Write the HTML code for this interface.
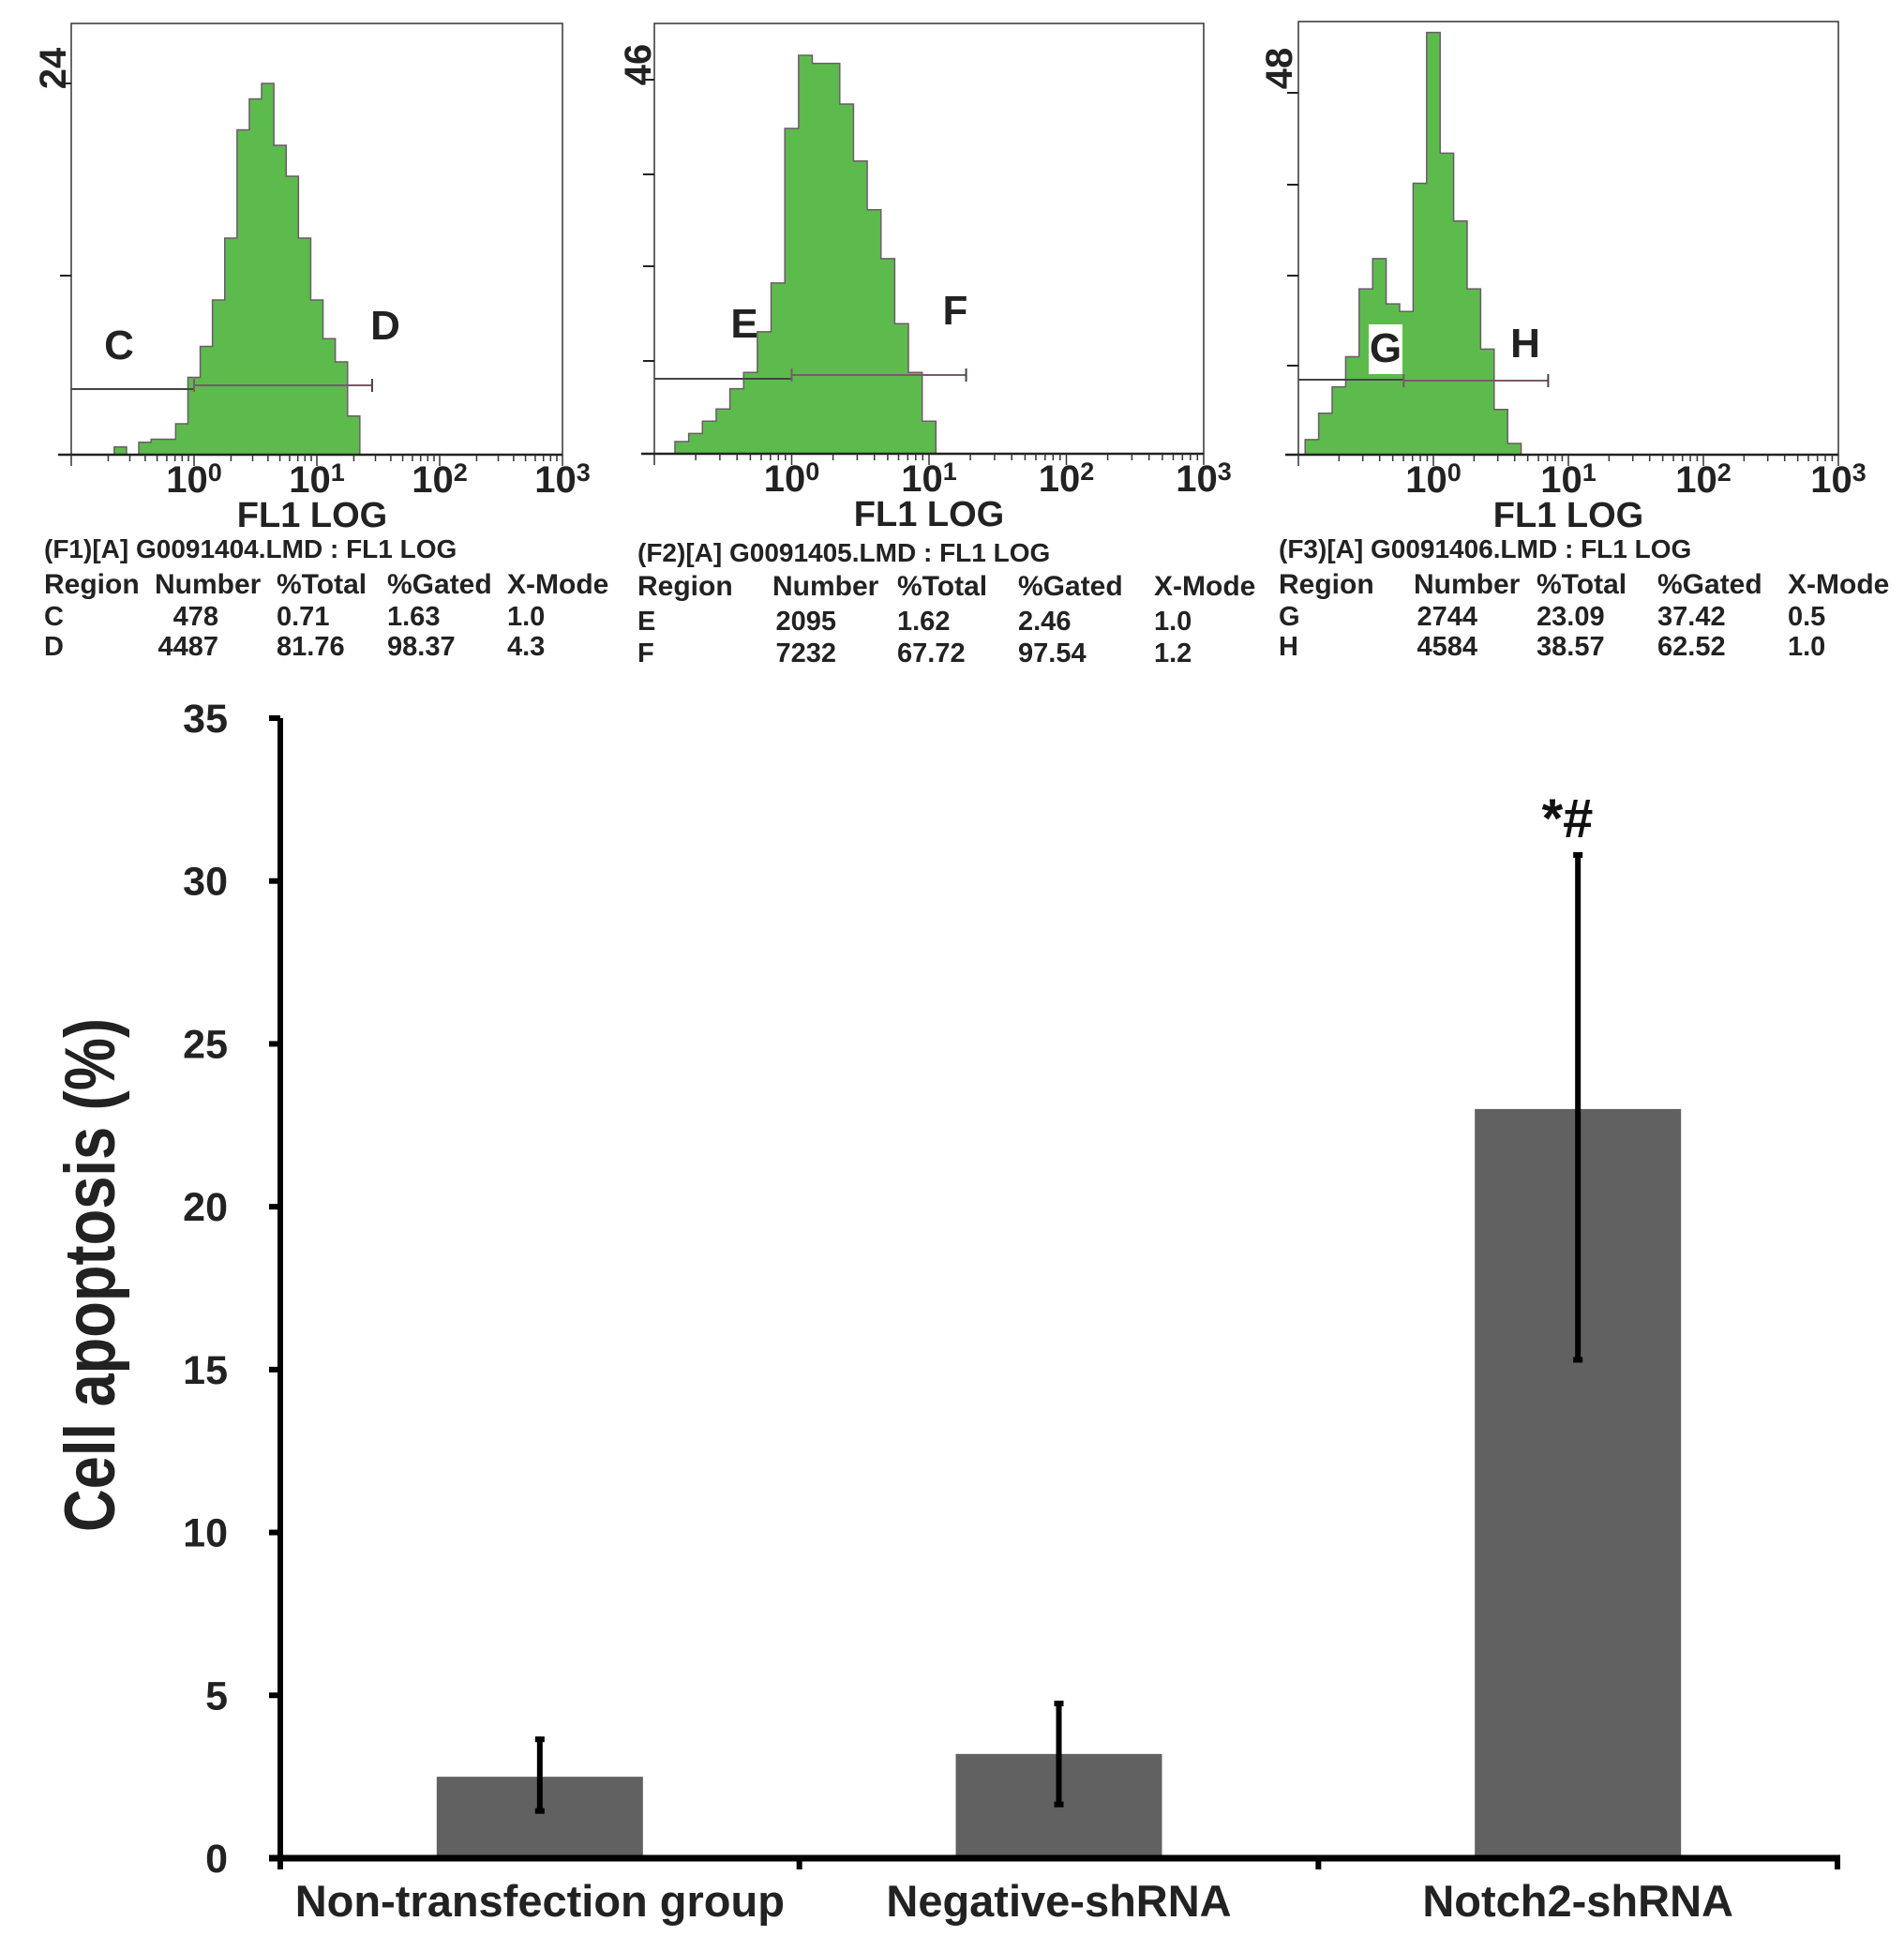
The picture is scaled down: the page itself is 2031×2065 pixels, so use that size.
<!DOCTYPE html>
<html><head><meta charset="utf-8"><style>
html,body{margin:0;padding:0;background:#fff;}
svg{display:block;font-family:"Liberation Sans",Arial,sans-serif;font-weight:bold;}
</style></head><body>
<svg id="fig" width="2031" height="2065" viewBox="0 0 2031 2065" xmlns="http://www.w3.org/2000/svg">
<rect width="2031" height="2065" fill="#fff"/>
<g id="hists"></g>
<g id="bars"></g>
</svg>
<script>
// ---- Histogram data (counts per 0.1 log bin) ----
const h1Start = -0.65;
const h1Counts = [0.5,0,0.8,1,1,2,5,7,10,14,21,23,24,20,18,14,10,7.5,6,2.5];
const h2Start = -0.85;
const h2Counts = [1.5,2.5,4,5.5,8,10,15,21,40,49,48,48,43,36,30,24,16,10,4];
const h3Start = -0.95;
const h3Counts = [2,5.5,9,13,22,26,20,19,36,56,40,31,22,14,6,1.5];
const histMax = [24,46,48];
const gateLabels = [["C","D"],["E","F"],["G","H"]];
const tableTitles = ["(F1)[A] G0091404.LMD : FL1 LOG","(F2)[A] G0091405.LMD : FL1 LOG","(F3)[A] G0091406.LMD : FL1 LOG"];
const tableRows = [
 [["C","478","0.71","1.63","1.0"],["D","4487","81.76","98.37","4.3"]],
 [["E","2095","1.62","2.46","1.0"],["F","7232","67.72","97.54","1.2"]],
 [["G","2744","23.09","37.42","0.5"],["H","4584","38.57","62.52","1.0"]]
];
// ---- Bar chart data ----
const categories = ["Non-transfection group","Negative-shRNA","Notch2-shRNA"];
const values = [2.5,3.2,23.0];
const errLow = [1.45,1.65,15.3];
const errHigh = [3.65,4.75,30.8];
const yTicks = [0,5,10,15,20,25,30,35];

const NS="http://www.w3.org/2000/svg";
function mk(tag,attrs,parent,text){const e=document.createElementNS(NS,tag);for(const k in attrs)e.setAttribute(k,attrs[k]);if(text!==undefined)e.textContent=text;parent.appendChild(e);return e;}

const panels=[
 {x0:76,x1:600,top:25,bot:485,dec:131,ticks:[89,294],start:h1Start,counts:h1Counts,
  maxLblX:56,maxLblY:73,gy1:415,gy2:411,gsplit:0.0,gend:1.45,l1:[127,367],l2:[411,346],
  tx:47,cols:[47,233,295,413,541],ty:[585,622,656,688],box:false},
 {x0:698,x1:1284,top:25,bot:484,dec:146.5,ticks:[85,186,284,385],start:h2Start,counts:h2Counts,
  maxLblX:680,maxLblY:69,gy1:404,gy2:400,gsplit:0.0,gend:1.27,l1:[794,344],l2:[1019,330],
  tx:680,cols:[680,892,957,1086,1231],ty:[589,624,661,695],box:false},
 {x0:1385,x1:1961,top:23,bot:485,dec:144,ticks:[99,197,294,390],start:h3Start,counts:h3Counts,
  maxLblX:1364,maxLblY:73,gy1:405,gy2:406,gsplit:-0.22,gend:0.85,l1:[1478,370],l2:[1627,365],
  tx:1364,cols:[1364,1576,1639,1768,1907],ty:[585,622,656,688],box:true}
];
const hg=document.getElementById('hists');
panels.forEach((p,i)=>{
  const g=mk('g',{},hg);
  
  
  const X=l=>p.x0+(l+1)*p.dec;
  const cnt=(p.bot-(i==0?89:i==1?85:99))/histMax[i];
  const Y=c=>p.bot-c*cnt;
  let d='M'+X(p.start)+','+p.bot;
  p.counts.forEach((c,k)=>{const a=p.start+k*0.1;d+=' L'+X(a)+','+Y(c)+' L'+X(a+0.1)+','+Y(c);});
  d+=' L'+X(p.start+p.counts.length*0.1)+','+p.bot+' Z';
  const hp=mk('path',{d:d,fill:'#5dbb4d',stroke:'#6d5a6a','stroke-width':1.5},g);
  
  
  const fr=mk('rect',{x:p.x0,y:p.top,width:p.x1-p.x0,height:p.bot-p.top,fill:'none',stroke:'#333','stroke-width':1.5},g);
  
  
  mk('line',{x1:p.x0-14,y1:p.bot,x2:p.x1,y2:p.bot,stroke:'#222','stroke-width':2.5},g);
  p.ticks.forEach(t=>mk('line',{x1:p.x0-12,y1:t,x2:p.x0,y2:t,stroke:'#222','stroke-width':2},g));
  for(let dcd=-1;dcd<3;dcd++){for(let m=1;m<10;m++){const xx=X(dcd+Math.log10(m));mk('line',{x1:xx,y1:p.bot,x2:xx,y2:p.bot+(m==1?12:7),stroke:'#333','stroke-width':1.5},g);}}
  mk('line',{x1:p.x1,y1:p.bot,x2:p.x1,y2:p.bot+12,stroke:'#333','stroke-width':1.5},g);
  for(let e=0;e<=3;e++){
    const t=mk('text',{x:X(e),y:p.bot+40,'font-size':40,'text-anchor':'middle',fill:'#222'},g);
    
    
    mk('tspan',{},t,'10');mk('tspan',{dy:-12,'font-size':27},t,String(e));
  }
  const xt=mk('text',{x:(p.x0+p.x1)/2+ (i==0?-5:0),y:p.bot+77,'font-size':38,'text-anchor':'middle',fill:'#222'},g,'FL1 LOG');
  
  
  const ml=mk('text',{x:0,y:0,'font-size':40,'text-anchor':'middle',fill:'#222',transform:'translate('+(p.maxLblX+14)+','+p.maxLblY+') rotate(-90)'},g,String(histMax[i]));
  
  
  const xs=X(p.gsplit), xe=X(p.gend);
  mk('line',{x1:p.x0,y1:p.gy1,x2:xs,y2:p.gy1,stroke:'#444','stroke-width':2},g);
  mk('line',{x1:xs,y1:p.gy2,x2:xe,y2:p.gy2,stroke:'#7a5a6a','stroke-width':2},g);
  mk('line',{x1:xe,y1:p.gy2-7,x2:xe,y2:p.gy2+7,stroke:'#444','stroke-width':2},g);
  mk('line',{x1:xs,y1:p.gy2-7,x2:xs,y2:p.gy2+7,stroke:'#7a5a6a','stroke-width':2},g);
  if(p.box) mk('rect',{x:1460,y:346,width:36,height:53,fill:'#fff'},g);
  [p.l1,p.l2].forEach((L,k)=>{const t=mk('text',{x:L[0],y:L[1]+16,'font-size':44,'text-anchor':'middle',fill:'#222'},g,gateLabels[i][k]);
    
    });
  const tt=mk('text',{x:p.tx,y:p.ty[0]+10,'font-size':28,fill:'#222'},g,tableTitles[i]);
  
  
  const hdr=["Region","Number","%Total","%Gated","X-Mode"];
  hdr.forEach((h,k)=>{const x=k==1?p.cols[1]-68:p.cols[k];const t=mk('text',{x:x,y:p.ty[1]+11,'font-size':30,fill:'#222'},g,h);
    
    });
  tableRows[i].forEach((r,ri)=>{r.forEach((v,k)=>{const t=mk('text',{x:p.cols[k],y:p.ty[2+ri]+11,'font-size':29,fill:'#222','text-anchor':k==1?'end':'start'},g,v);
    
    });});
});

// ---- Bar chart ----
const bg=document.getElementById('bars');
const ax0=299, ax1=1960, y0=1982, y35=766;
const yS=v=>y0-(v/35)*(y0-y35);
const band=(ax1-ax0)/categories.length;
const xC=i=>ax0+band*(i+0.5);
const bw=220;
values.forEach((v,i)=>{
  const r=mk('rect',{x:xC(i)-bw/2,y:yS(v),width:bw,height:y0-yS(v),fill:'#616161'},bg);
  
  
  const e=mk('line',{x1:xC(i),y1:yS(errLow[i]),x2:xC(i),y2:yS(errHigh[i]),stroke:'#000','stroke-width':6},bg);
  
  
  mk('rect',{x:xC(i)-5,y:yS(errHigh[i])-3,width:10,height:6,fill:'#000'},bg);
  mk('rect',{x:xC(i)-5,y:yS(errLow[i])-3,width:10,height:6,fill:'#000'},bg);
  const c=mk('text',{x:xC(i),y:2044,'font-size':47,'text-anchor':'middle',fill:'#222'},bg,categories[i]);
  
  
});
const yl=mk('line',{x1:ax0,y1:y35,x2:ax0,y2:y0+3,stroke:'#000','stroke-width':6},bg);


const xl=mk('line',{x1:ax0-12,y1:y0,x2:ax1+3,y2:y0,stroke:'#000','stroke-width':7},bg);


for(let k=0;k<=categories.length;k++){const xx=ax0+band*k;mk('line',{x1:xx,y1:y0,x2:xx,y2:y0+12,stroke:'#000','stroke-width':6},bg);}
yTicks.forEach(t=>{
  mk('line',{x1:ax0-12,y1:yS(t),x2:ax0,y2:yS(t),stroke:'#000','stroke-width':6},bg);
  const tx=mk('text',{x:243,y:yS(t)+15,'font-size':43,'text-anchor':'end',fill:'#222'},bg,String(t));
  
  
});
const yt=mk('text',{x:0,y:0,'font-size':76,'text-anchor':'middle',fill:'#222',textLength:548,lengthAdjust:'spacingAndGlyphs',transform:'translate(122,1360) rotate(-90)'},bg,'Cell apoptosis (%)');


const sig=mk('text',{x:1672,y:893,'font-size':58,'text-anchor':'middle',fill:'#111'},bg,'*#');


</script>
</body></html>
